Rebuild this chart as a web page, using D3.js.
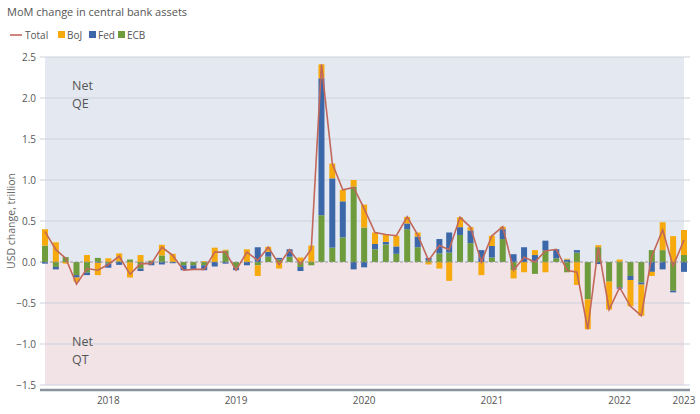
<!DOCTYPE html>
<html>
<head>
<meta charset="utf-8">
<script src="https://cdn.jsdelivr.net/npm/d3@7"></script>
<style>
  body { margin: 0; background: #fff; }
  text { font-family: "Open Sans", "Liberation Sans", sans-serif; }
</style>
</head>
<body>
<div id="chart"></div>
<script>
// months Jan 2018 .. Jan 2023
const months = d3.range(61).map(i => new Date(2018, i, 1));

const ecb = [0.2, -0.06, 0.06, -0.16, -0.13, 0.05, -0.02, 0.01, 0.03, -0.08, 0.015, 0.08, 0, -0.04, -0.04, -0.04,
  0, 0.14, -0.07, 0, -0.04, 0.065, 0.03, 0.065, -0.06, -0.04, 0.57, 0.175, 0.3, 0.92, 0.42, 0.155, 0.215, 0.1, 0.4,
  0.18, 0.02, 0.105, 0.115, 0.33, 0.23, 0, 0.055, 0.28, -0.1, 0, -0.145, 0.14, 0.045, -0.125, 0.115, -0.455, 0.18,
  -0.24, -0.31, -0.17, -0.25, 0.145, 0.145, -0.35, 0.085];
const fed = [-0.02, -0.03, 0, -0.03, -0.03, -0.01, -0.05, -0.035, 0, -0.03, -0.04, -0.03, -0.015, -0.06, -0.05, -0.06,
  -0.055, -0.02, -0.03, -0.04, 0.18, 0.06, 0.02, 0.09, -0.05, 0, 1.67, 0.845, 0.44, -0.09, -0.065, 0.065, 0.03, 0.09,
  0.07, 0.13, 0.03, 0.175, 0.245, 0.095, 0.155, 0.145, 0.14, 0.12, 0.095, 0.18, 0.085, 0.12, 0.11, 0.03, 0.03, 0,
  -0.025, 0, -0.015, -0.05, -0.025, -0.12, -0.09, -0.02, -0.12];
const boj = [0.2, 0.24, -0.02, -0.05, 0.085, -0.15, 0.045, 0.095, -0.19, 0.085, 0.005, 0.13, 0.1, 0, 0, 0.01, 0.175,
  0.01, 0, 0.155, -0.13, 0.06, -0.08, 0, 0.055, 0.2, 0.17, 0.18, 0.14, 0.08, 0.28, 0.14, 0.09, 0.13, 0.08, 0.05, -0.03,
  -0.08, -0.23, 0.12, 0.04, -0.16, 0.125, 0.03, -0.1, -0.125, 0.06, -0.125, 0, 0.01, -0.28, -0.365, 0.025, -0.34, 0.03,
  -0.32, -0.38, -0.05, 0.34, 0.315, 0.305];
const total = [0.37, 0.15, 0.045, -0.27, -0.08, -0.1, -0.03, 0.07, -0.15, -0.02, -0.02, 0.18, 0.08, -0.1, -0.09, -0.09,
  0.12, 0.12, -0.1, 0.12, 0.02, 0.18, -0.03, 0.15, -0.03, 0.16, 2.41, 1.2, 0.88, 0.91, 0.65, 0.36, 0.335, 0.32, 0.55,
  0.33, 0.02, 0.2, 0.15, 0.545, 0.425, 0, 0.32, 0.43, -0.1, 0.057, 0, 0.135, 0.155, -0.1, -0.125, -0.82, 0.18, -0.58,
  -0.31, -0.54, -0.655, 0.07, 0.39, -0.05, 0.27];

const yTicks = [-1.5, -1.0, -0.5, 0.0, 0.5, 1.0, 1.5, 2.0, 2.5];
const yearLabels = ['2018', '2019', '2020', '2021', '2022', '2023'];

const series = [
  { name: 'ECB', values: ecb, color: '#6e9b3c' },
  { name: 'Fed', values: fed, color: '#3c68aa' },
  { name: 'BoJ', values: boj, color: '#f6aa0e' }
];

const W = 700, H = 414;
const svg = d3.select('#chart').append('svg')
  .attr('width', W).attr('height', H);

const x = d3.scaleTime()
  .domain([months[0], months[60]])
  .range([45, 684]);
const y = d3.scaleLinear().domain([-1.5, 2.5]).range([385, 57]);
const barW = 6;

// shaded regions (net QE / net QT)
svg.append('rect')
  .attr('x', x(months[0])).attr('width', x(months[60]) - x(months[0]))
  .attr('y', y(2.5)).attr('height', y(0) - y(2.5))
  .attr('fill', '#e4e8f1');
svg.append('rect')
  .attr('x', x(months[0])).attr('width', x(months[60]) - x(months[0]))
  .attr('y', y(0)).attr('height', y(-1.5) - y(0))
  .attr('fill', '#f1e3e6');

// gridlines
svg.append('g').selectAll('line')
  .data(yTicks.filter(d => d !== 0))
  .join('line')
  .attr('x1', 40).attr('x2', 690)
  .attr('y1', d => y(d)).attr('y2', d => y(d))
  .attr('stroke', '#cdd1dc').attr('stroke-width', 1.2);

// y tick labels
svg.append('g').selectAll('text')
  .data(yTicks)
  .join('text')
  .attr('x', 36).attr('y', d => y(d) + 4)
  .attr('text-anchor', 'end')
  .attr('font-size', 10).attr('fill', '#555')
  .text(d => d3.format('.1f')(d));

// stacked bars (relative mode: positives up, negatives down)
const barData = [];
months.forEach((m, i) => {
  let pos = 0, neg = 0;
  series.forEach(s => {
    const v = s.values[i];
    if (v >= 0) { barData.push({ m, y0: pos, y1: pos + v, color: s.color }); pos += v; }
    else { barData.push({ m, y0: neg + v, y1: neg, color: s.color }); neg += v; }
  });
});
svg.append('g').selectAll('rect')
  .data(barData)
  .join('rect')
  .attr('x', d => x(d.m) - barW / 2)
  .attr('width', barW)
  .attr('y', d => y(d.y1))
  .attr('height', d => Math.max(0, y(d.y0) - y(d.y1)))
  .attr('fill', d => d.color);

// zero line
svg.append('line')
  .attr('x1', 40).attr('x2', 690)
  .attr('y1', y(0)).attr('y2', y(0))
  .attr('stroke', '#999').attr('stroke-dasharray', '3,2').attr('stroke-width', 1);

// total line
const line = d3.line()
  .x((d, i) => x(months[i]))
  .y(d => y(d));
svg.append('path')
  .datum(total)
  .attr('d', line)
  .attr('fill', 'none')
  .attr('stroke', '#c2685b')
  .attr('stroke-width', 1.6);

// x axis baseline
svg.append('line')
  .attr('x1', 40).attr('x2', 690)
  .attr('y1', 390).attr('y2', 390)
  .attr('stroke', '#8a949e').attr('stroke-width', 2.5);

// year labels at mid-year
svg.append('g').selectAll('text')
  .data(yearLabels)
  .join('text')
  .attr('x', d => d === '2023' ? x(new Date(2023, 0, 1)) : x(new Date(+d, 6, 1)))
  .attr('y', 404)
  .attr('text-anchor', 'middle')
  .attr('font-size', 10).attr('fill', '#555')
  .text(d => d);

// y title
svg.append('text')
  .attr('transform', `translate(15,${y(0.5)}) rotate(-90)`)
  .attr('text-anchor', 'middle')
  .attr('font-size', 10.5).attr('fill', '#666')
  .text('USD change, trillion');

// annotations
const notes = [['Net', 'QE', 90], ['Net', 'QT', 346]];
notes.forEach(([a, b, ty]) => {
  svg.append('text').attr('x', 72).attr('y', ty).attr('font-size', 12.5).attr('fill', '#555').text(a);
  svg.append('text').attr('x', 72).attr('y', ty + 18).attr('font-size', 12.5).attr('fill', '#555').text(b);
});

// title
svg.append('text')
  .attr('x', 7).attr('y', 16)
  .attr('font-size', 11).attr('fill', '#555')
  .text('MoM change in central bank assets');

// legend
const legend = svg.append('g').attr('transform', 'translate(10,35)');
legend.append('line').attr('x1', 0).attr('x2', 12).attr('y1', 0).attr('y2', 0)
  .attr('stroke', '#c2685b').attr('stroke-width', 1.6);
legend.append('text').attr('x', 15).attr('y', 3.5).attr('font-size', 10).attr('fill', '#555').text('Total');
const legItems = [['BoJ', '#f6aa0e', 48], ['Fed', '#3c68aa', 79], ['ECB', '#6e9b3c', 108]];
legItems.forEach(([n, c, lx]) => {
  legend.append('rect').attr('x', lx).attr('y', -4).attr('width', 7).attr('height', 7).attr('fill', c);
  legend.append('text').attr('x', lx + 9).attr('y', 3.5).attr('font-size', 10).attr('fill', '#555').text(n);
});
</script>
</body>
</html>
